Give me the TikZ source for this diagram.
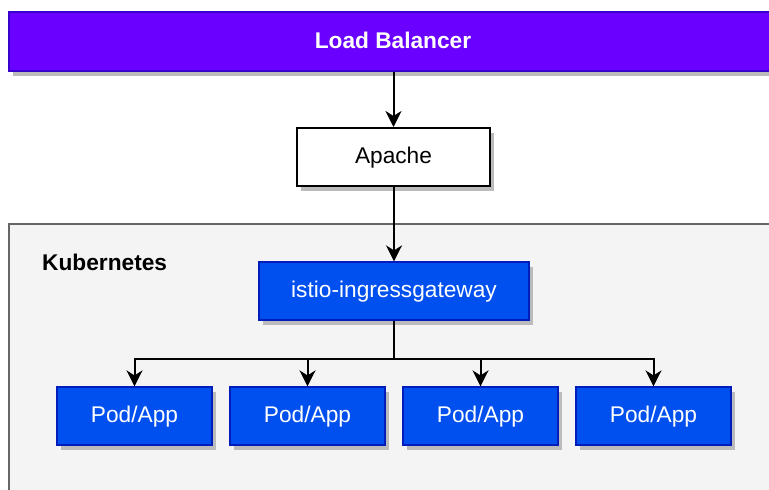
\documentclass[tikz,border=0pt]{standalone}
\usepackage{fontspec}
\setmainfont{Liberation Sans}
\usetikzlibrary{arrows.meta,shadows}
\definecolor{lbfill}{HTML}{6A00FF}
\definecolor{lbdraw}{HTML}{3700CC}
\definecolor{bluefill}{HTML}{0050EF}
\definecolor{bluedraw}{HTML}{001DBC}
\definecolor{kfill}{HTML}{F4F4F4}
\definecolor{kdraw}{HTML}{666666}
\definecolor{shadowc}{HTML}{BBBBBB}
\begin{document}
\begin{tikzpicture}[x=1pt,y=-1pt,
  box/.style={rectangle, inner sep=0pt, font=\fontsize{22.7}{27}\selectfont,
    text height=16.3pt, text depth=3pt,
    drop shadow={shadow xshift=4pt, shadow yshift=-5pt, fill=shadowc, opacity=1}},
  lbbox/.style={box, fill=lbfill, draw=lbdraw, line width=1.2pt, text=white,
    font=\fontsize{22.7}{27}\selectfont\bfseries, minimum width=768pt, minimum height=59pt},
  whitebox/.style={box, fill=white, draw=black, line width=2pt, minimum width=193pt, minimum height=58pt},
  bluebox/.style={box, fill=bluefill, draw=bluedraw, line width=1.2pt, text=white, minimum height=58pt},
  podbox/.style={bluebox, minimum width=155pt},
  arr/.style={-{Stealth[length=16pt,width=16pt,inset=5pt]}, line width=2pt}
]
\useasboundingbox (0,0) rectangle (769,490);
% Kubernetes container
\draw[fill=kfill, draw=kdraw, line width=1.5pt] (9,224) rectangle (800,520);
\node[anchor=base west, inner sep=0pt, font=\fontsize{22.7}{27}\selectfont\bfseries] (klabel) at (42,270) {Kubernetes};

\node[lbbox] (lb) at (393,41.5) {Load Balancer};
\node[whitebox] (apache) at (393.5,157) {Apache};
\node[bluebox, minimum width=270pt] (istio) at (394,291) {istio-ingressgateway};
\node[podbox] (p1) at (134.5,416) {Pod/App};
\node[podbox] (p2) at (307.5,416) {Pod/App};
\node[podbox] (p3) at (480.5,416) {Pod/App};
\node[podbox] (p4) at (653.5,416) {Pod/App};

\draw[arr] (apache.north |- lb.south) -- (apache.north);
\draw[arr] (istio.north |- apache.south) -- (istio.north);
\foreach \p in {p1,p2,p3,p4}{
  \draw[arr] (istio.south) -- ++(0,38) -| (\p.north);
}
\end{tikzpicture}
\end{document}
